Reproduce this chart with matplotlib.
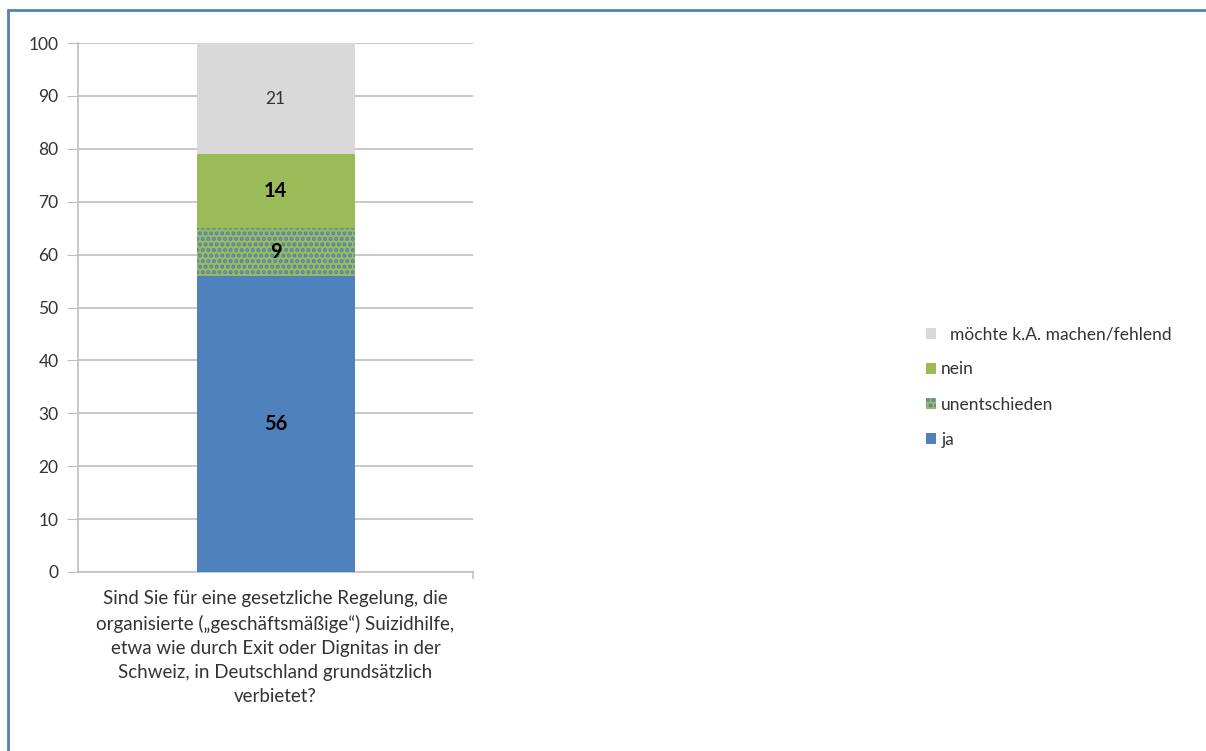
import matplotlib.pyplot as plt
from matplotlib.patches import Rectangle, Patch

plt.rcParams['font.family'] = ['Lato', 'DejaVu Sans']
plt.rcParams['hatch.linewidth'] = 2.0

question = ("Sind Sie für eine gesetzliche Regelung, die\n"
            "organisierte („geschäftsmäßige“) Suizidhilfe,\n"
            "etwa wie durch Exit oder Dignitas in der\n"
            "Schweiz, in Deutschland grundsätzlich\n"
            "verbietet?")
series = ["ja", "unentschieden", "nein", "  möchte k.A. machen/fehlend"]
values = [56, 9, 14, 21]
colors = ["#4F81BD", "#9BBB59", "#9BBB59", "#D9D9D9"]
hatches = [None, "...", None, None]
label_bold = [True, True, True, False]

fig = plt.figure(figsize=(12.06, 7.51), dpi=100)
ax = fig.add_axes([78 / 1206, 1 - 572 / 751, 395 / 1206, 529 / 751])

bottom = 0
handles = []
for name, v, c, h, b in zip(series, values, colors, hatches, label_bold):
    if h:
        ax.bar(0, v, 0.4, bottom=bottom, color=c, edgecolor="#4F81BD",
               hatch=h, linewidth=0, zorder=3)
    else:
        ax.bar(0, v, 0.4, bottom=bottom, color=c, linewidth=0, zorder=3)
    ax.text(0, bottom + v / 2, str(v), ha="center", va="center",
            fontsize=14.5 if b else 12.5, fontweight="bold" if b else "normal",
            color="black" if b else "#333333", zorder=4)
    handles.append(Patch(facecolor=c, edgecolor="#4F81BD" if h else c,
                         hatch=h, linewidth=0, label=name))
    bottom += v

ax.set_xlim(-0.5, 0.5)
ax.set_ylim(0, 100)
ax.set_yticks(range(0, 101, 10))
ax.yaxis.grid(True, color="#BFBFBF", linewidth=1.2, zorder=0)
ax.tick_params(axis="y", length=8, color="#BFBFBF", labelsize=12.5,
               labelcolor="#333333", pad=6)
ax.set_xticks([0])
ax.set_xticklabels([question], fontsize=13.5, color="#333333", linespacing=1.5)
ax.tick_params(axis="x", length=0, pad=13)
for s in ["top", "right"]:
    ax.spines[s].set_visible(False)
for s in ["left", "bottom"]:
    ax.spines[s].set_color("#BFBFBF")
    ax.spines[s].set_linewidth(1.2)
ax.plot([1, 1], [0, -0.012], transform=ax.transAxes, color="#BFBFBF",
        lw=1.2, clip_on=False)

leg = fig.legend(handles=handles[::-1], loc="center left",
                 bbox_to_anchor=(910 / 1206, 1 - 387 / 751), frameon=False,
                 fontsize=12.5, handlelength=0.6, handleheight=0.6,
                 handletextpad=0.3, labelspacing=1.1)
for t in leg.get_texts():
    t.set_color("#333333")

fig.patches.append(Rectangle((8 / 1206, -0.05), 1.2, 1 - 10 / 751 + 0.05,
                             transform=fig.transFigure, fill=False,
                             edgecolor="#4F81BD", linewidth=2))

fig.savefig("out.png", dpi=100)
